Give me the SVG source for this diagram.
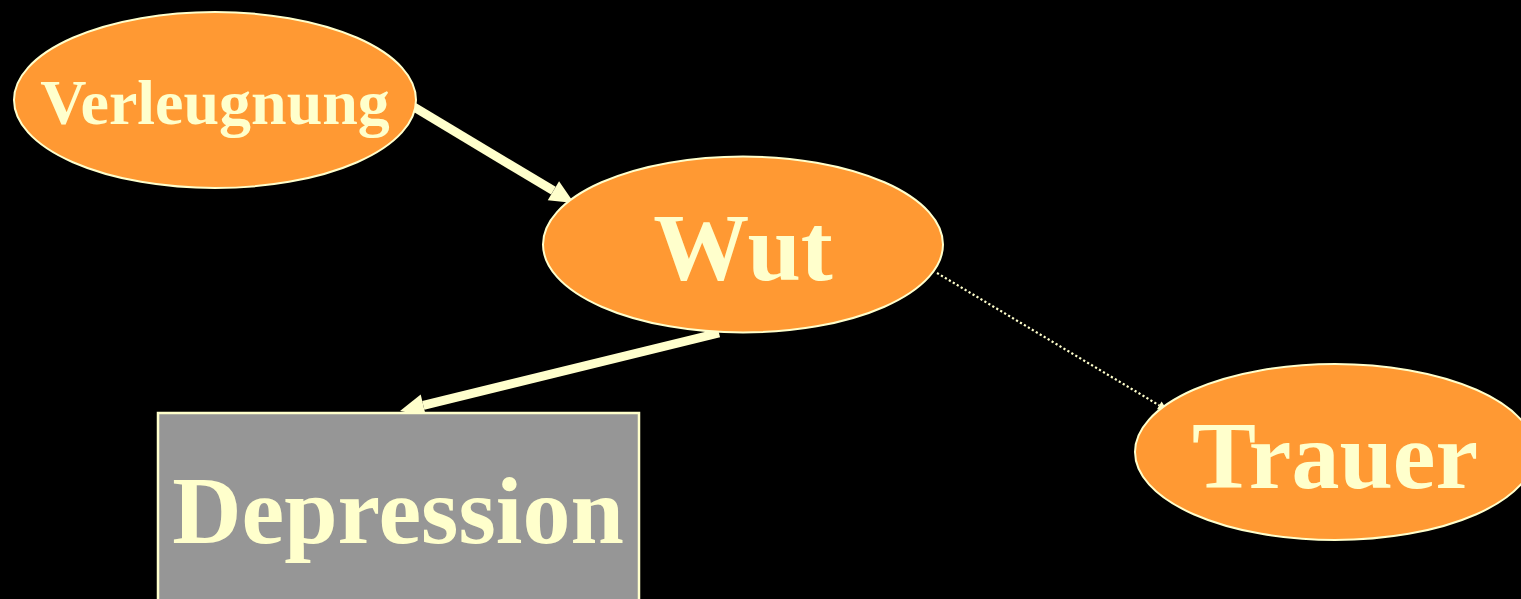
<svg xmlns="http://www.w3.org/2000/svg" width="1521" height="599" viewBox="0 0 1521 599">
<defs>
<style>
.bg{fill:#000000}
.ell{fill:#FF9933;stroke:#FFFFCC;stroke-width:2}
.box{fill:#969696;stroke:#FFFFCC;stroke-width:2.5}
.lbl{font-family:"Liberation Serif","Times New Roman",serif;font-weight:bold;fill:#FFFFCC;text-anchor:middle}
.thick{stroke:#FFFFCC;stroke-width:9;fill:none}
.dot{stroke:#FFFFCC;stroke-width:2.2;fill:none;stroke-dasharray:2.2 2.4}
</style>
<marker id="bigHead" markerUnits="userSpaceOnUse" markerWidth="30" markerHeight="30" refX="0" refY="0" orient="auto" overflow="visible">
<path d="M0,-11 L24,0 L0,11 z" fill="#FFFFCC"/>
</marker>
<marker id="smallHead" markerUnits="userSpaceOnUse" markerWidth="12" markerHeight="12" refX="0" refY="0" orient="auto" overflow="visible">
<path d="M0,-4.5 L9,0 L0,4.5 z" fill="#FFFFCC"/>
</marker>
</defs>
<rect class="bg" x="0" y="0" width="1521" height="599"/>
<g id="connectors">
<line class="thick" x1="414" y1="107" x2="553.4" y2="190.7" marker-end="url(#bigHead)"/>
<line class="thick" x1="719" y1="333" x2="423.3" y2="405.3" marker-end="url(#bigHead)"/>
<line class="dot" x1="937" y1="273" x2="1159.3" y2="405.4" marker-end="url(#smallHead)"/>
</g>
<g id="node-verleugnung">
<ellipse class="ell" cx="215" cy="100" rx="201" ry="88"/>
<text class="lbl" x="215" y="124" font-size="64">Verleugnung</text>
</g>
<g id="node-wut">
<ellipse class="ell" cx="743" cy="244.5" rx="200" ry="88"/>
<text class="lbl" x="743" y="280" font-size="96">Wut</text>
</g>
<g id="node-trauer">
<ellipse class="ell" cx="1335" cy="452" rx="200" ry="88"/>
<text class="lbl" x="1335" y="488" font-size="96">Trauer</text>
</g>
<g id="node-depression">
<rect class="box" x="158" y="413" width="481" height="200"/>
<text class="lbl" x="398" y="543" font-size="96">Depression</text>
</g>
</svg>
